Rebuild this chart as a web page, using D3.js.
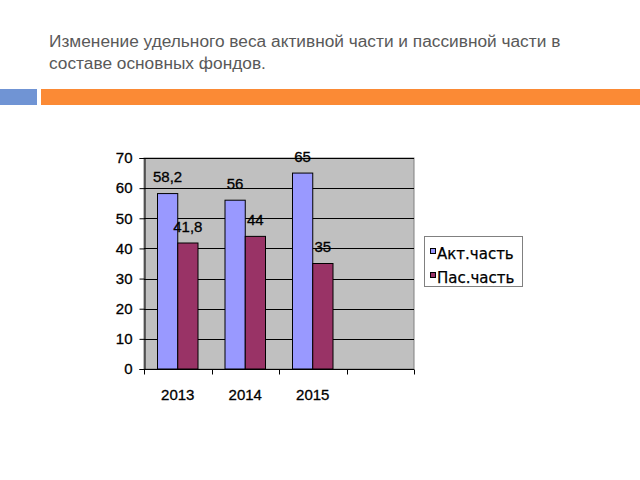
<!DOCTYPE html>
<html><head><meta charset="utf-8">
<script src="https://cdn.jsdelivr.net/npm/d3@7"></script>
<style>body{margin:0;background:#fff}svg{display:block}</style>
</head><body>
<script>
const categories = ["2013", "2014", "2015"];
const seriesNames = ["Акт.часть", "Пас.часть"];
const aktValues = [58.2, 56, 65];
const pasValues = [41.8, 44, 35];
const yTicks = [0, 10, 20, 30, 40, 50, 60, 70];
const titleLines = ["Изменение удельного веса активной части и пассивной части в", "составе основных фондов."];

const colors = ["#9999FF", "#993366"];
const FONT = "Liberation Sans, Arial, sans-serif";
const FS = 15;
const W = 640, H = 480;
const svg = d3.select("body").append("svg").attr("width", W).attr("height", H);

// title
svg.selectAll("text.title").data(titleLines).enter().append("text")
  .attr("x", 49).attr("y", (d, i) => 47 + i * 22)
  .attr("font-family", "Liberation Sans, Arial, sans-serif").attr("font-size", 17.3)
  .attr("fill", "#595959").text(d => d);

// decorative bars
svg.append("rect").attr("x", 0).attr("y", 89).attr("width", 37).attr("height", 16).attr("fill", "#7094D4");
svg.append("rect").attr("x", 41).attr("y", 89).attr("width", 599).attr("height", 16).attr("fill", "#FB8A35");

const xDomain = categories.concat([""]);
const x = d3.scaleBand().domain(xDomain).range([144, 414]).padding(0);
const xs = d3.scaleBand().domain(seriesNames).range([13.5, x.bandwidth() - 13.5]).padding(0);
const y = d3.scaleLinear().domain([0, 70]).range([369, 158]);

const data = categories.map((c, i) => ({cat: c, vals: [aktValues[i], pasValues[i]]}));

function txt(sel) {
  return sel.attr("font-family", FONT).attr("font-size", FS).attr("fill", "#000")
    .attr("stroke", "#000").attr("stroke-width", 0.3);
}

// plot bg
svg.append("rect").attr("x", 144).attr("y", y(70)).attr("width", 414 - 144).attr("height", y(0) - y(70))
  .attr("fill", "#C0C0C0").attr("stroke", "#808080").attr("stroke-width", 1);

// gridlines
svg.selectAll("line.grid").data(yTicks.filter(t => t > 0)).enter().append("line")
  .attr("x1", 144).attr("x2", 414).attr("y1", d => Math.round(y(d)) + 0.5).attr("y2", d => Math.round(y(d)) + 0.5)
  .attr("stroke", "#000").attr("stroke-width", 1);

// bars
const g = svg.selectAll("g.cat").data(data).enter().append("g")
  .attr("transform", d => `translate(${x(d.cat)},0)`);
g.selectAll("rect").data(d => d.vals.map((v, i) => ({v, s: seriesNames[i], i}))).enter().append("rect")
  .attr("x", d => xs(d.s)).attr("width", xs.bandwidth())
  .attr("y", d => y(d.v)).attr("height", d => y(0) - y(d.v))
  .attr("fill", d => colors[d.i]).attr("stroke", "#000").attr("stroke-width", 1);
g.selectAll("text").data(d => d.vals.map((v, i) => ({v, s: seriesNames[i], i}))).enter().append("text")
  .attr("x", d => xs(d.s) + xs.bandwidth() / 2).attr("y", d => y(d.v) - 11.5)
  .attr("text-anchor", "middle").call(txt)
  .text(d => String(d.v).replace(".", ","));

// y axis
const yAxis = d3.axisLeft(y).tickValues(yTicks).tickSize(5).tickPadding(7).tickFormat(d3.format("d"));
const ya = svg.append("g").attr("transform", "translate(144.5,0)").call(yAxis);
ya.selectAll("text").call(txt);
ya.select(".domain").attr("stroke", "#000");

// x axis
const xa = svg.append("g").attr("transform", `translate(0,${Math.round(y(0)) + 0.5})`);
xa.append("line").attr("x1", 144).attr("x2", 414).attr("stroke", "#000");
xa.selectAll("line.tk").data(xDomain.concat(["__end"])).enter().append("line")
  .attr("x1", (d, i) => Math.round(i < xDomain.length ? x(d) : 414) + 0.5)
  .attr("x2", (d, i) => Math.round(i < xDomain.length ? x(d) : 414) + 0.5)
  .attr("y1", 0).attr("y2", 5).attr("stroke", "#000");
xa.selectAll("text").data(categories).enter().append("text")
  .attr("x", d => x(d) + x.bandwidth() / 2).attr("y", 30)
  .attr("text-anchor", "middle").call(txt).text(d => d);

// legend
const lg = svg.append("g");
lg.append("rect").attr("x", 424.5).attr("y", 236.5).attr("width", 98).attr("height", 50)
  .attr("fill", "#fff").attr("stroke", "#808080");
const li = lg.selectAll("g.li").data(seriesNames).enter().append("g")
  .attr("transform", (d, i) => `translate(430,${251 + i * 24})`);
li.append("rect").attr("x", 0.5).attr("y", -2.5).attr("width", 5).attr("height", 5)
  .attr("fill", (d, i) => colors[i]).attr("stroke", "#000");
li.append("text").attr("x", 7).attr("y", 7.5).call(txt).attr("font-family", "DejaVu Sans, Verdana, sans-serif")
  .attr("stroke-width", 0.25).attr("font-size", 15).text(d => d);
</script>
</body></html>
